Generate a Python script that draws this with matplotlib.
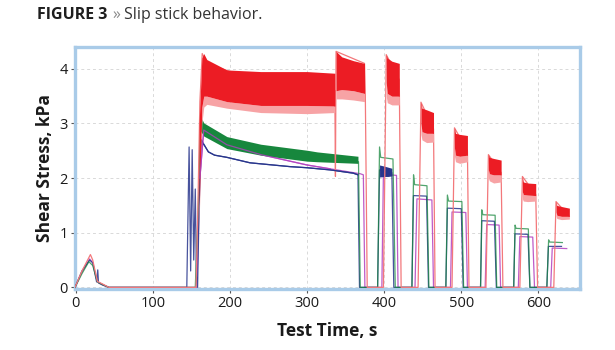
import matplotlib
matplotlib.use("Agg")
import matplotlib.pyplot as plt

plt.rcParams['font.family'] = ['Open Sans', 'DejaVu Sans']

# ---------------- data ----------------
# Red trace outline (time s, shear stress kPa)
red_t = [-1, 8, 19, 22, 28, 35, 43, 156, 158, 161, 164, 170, 250, 336, 336.8, 337.6, 374.5, 375.5, 378,
         399, 402.7, 419.6, 422, 444, 447.7, 464, 466, 488, 491.2, 508, 510, 532, 535.2, 551.7, 554,
         576, 579.3, 596.6, 599, 620, 622.9, 640]
red_v = [0, 0.3, 0.6, 0.5, 0.11, 0.06, 0, 0, 1.2, 3.4, 4.28, 4.1, 3.7, 3.6, 2.03, 4.32, 4.1, 3.6, 0,
         0, 4.26, 3.8, 0, 0, 3.39, 2.9, 0, 0, 2.92, 2.5, 0, 0, 2.43, 2.1, 0,
         0, 2.03, 1.7, 0, 0, 1.57, 1.3]

# Red stick-slip band envelopes for each loading step
red_band_t = [[160, 163.5, 166, 170, 196, 240, 300, 336],
              [337.6, 345, 360, 374.5],
              [402.7, 404, 410, 419.6],
              [447.7, 449, 455, 464],
              [491.2, 492.5, 498, 508],
              [535.2, 536.5, 542, 551.7],
              [579.3, 580.5, 586, 596.6],
              [622.9, 624, 630, 640.2]]
red_band_hi = [[3.0, 4.2, 4.28, 4.17, 3.98, 3.95, 3.95, 3.92],
               [4.32, 4.22, 4.15, 4.1],
               [4.26, 4.2, 4.14, 4.1],
               [3.39, 3.28, 3.25, 3.2],
               [2.92, 2.82, 2.8, 2.78],
               [2.43, 2.38, 2.36, 2.33],
               [2.03, 1.93, 1.91, 1.9],
               [1.57, 1.5, 1.48, 1.45]]
red_band_lo = [[1.5, 3.3, 3.5, 3.5, 3.4, 3.33, 3.33, 3.32],
               [3.6, 3.62, 3.6, 3.55],
               [3.75, 3.55, 3.5, 3.5],
               [3.0, 2.85, 2.82, 2.82],
               [2.55, 2.42, 2.4, 2.42],
               [2.15, 2.08, 2.06, 2.06],
               [1.75, 1.7, 1.69, 1.68],
               [1.38, 1.32, 1.3, 1.3]]
red_band_min = [[1.2, 3.0, 3.3, 3.35, 3.28, 3.2, 3.18, 3.2],
                [3.45, 3.45, 3.43, 3.4],
                [3.5, 3.38, 3.34, 3.34],
                [2.8, 2.7, 2.65, 2.66],
                [2.4, 2.3, 2.27, 2.3],
                [2.0, 1.95, 1.91, 1.93],
                [1.62, 1.58, 1.57, 1.58],
                [1.3, 1.26, 1.24, 1.25]]

# Green trace
green_t = [-1, 8, 17, 22, 28, 35, 43, 155, 159, 161.8, 165, 196, 240, 300, 366.7, 369,
           391.5, 394, 395.5, 411.4, 414.4, 436, 438.1, 439.5, 455.5, 458, 480, 482, 483.5, 500.8, 503,
           525, 526.6, 528, 543.9, 546, 568, 569.8, 571, 587, 589, 611, 613.3, 614.5, 631.1]
green_v = [0, 0.25, 0.47, 0.4, 0.1, 0.05, 0, 0, 1.5, 3.13, 2.9, 2.64, 2.5, 2.41, 2.3, 0,
           0, 2.57, 2.38, 2.35, 0, 0, 2.06, 1.88, 1.86, 0, 0, 1.69, 1.58, 1.57, 0,
           0, 1.42, 1.33, 1.32, 0, 0, 1.14, 1.08, 1.07, 0, 0, 0.87, 0.83, 0.82]
green_band_t = [162, 166, 196, 240, 300, 313, 366]
green_band_hi = [3.13, 3.01, 2.76, 2.62, 2.51, 2.48, 2.40]
green_band_lo = [2.86, 2.77, 2.54, 2.42, 2.31, 2.30, 2.27]

# Blue trace
blue_t = [-1, 8, 18, 22, 27, 28.5, 29.5, 35, 43, 144, 147, 149, 151, 153, 155, 156.5, 158, 160, 163,
          166, 172, 180, 196, 226, 278, 300, 330, 360, 366, 368,
          391.5, 394, 410, 412.5, 436, 438, 455, 457.5, 480, 482, 500, 502.5,
          525, 526.6, 543, 545.5, 568, 569.6, 586.5, 589, 611, 613, 630]
blue_v = [0, 0.3, 0.5, 0.45, 0.1, 0.32, 0.08, 0.04, 0, 0, 2.57, 0.3, 2.52, 0.5, 1.8, 0.2, 0, 1.5, 2.7,
          2.62, 2.48, 2.42, 2.38, 2.28, 2.21, 2.19, 2.15, 2.09, 2.06, 0,
          0, 2.15, 2.1, 0, 0, 1.68, 1.67, 0, 0, 1.45, 1.44, 0,
          0, 1.22, 1.21, 0, 0, 0.98, 0.97, 0, 0, 0.75, 0.75]
blue_band_t = [394, 400, 405, 410]
blue_band_hi = [2.24, 2.22, 2.2, 2.18]
blue_band_lo = [2.02, 2.03, 2.03, 2.04]

# Purple trace
purple_t = [-1, 8, 18, 22, 28, 35, 43, 157, 161, 166, 196, 240, 300, 330, 369, 373, 375,
            397, 399, 416, 418, 440, 442.5, 461.9, 464, 486, 488, 505.9, 508,
            531, 533, 549.1, 551, 574, 576, 592.7, 595, 616, 618, 636.8]
purple_v = [0, 0.28, 0.52, 0.45, 0.1, 0.05, 0, 0, 2.0, 2.88, 2.61, 2.43, 2.24, 2.17, 2.08, 2.06, 0,
            0, 2.07, 2.05, 0, 0, 1.62, 1.6, 0, 0, 1.38, 1.37, 0,
            0, 1.15, 1.14, 0, 0, 0.93, 0.92, 0, 0, 0.72, 0.71]

x_ticks = [0, 100, 200, 300, 400, 500, 600]
y_ticks = [0, 1, 2, 3, 4]

# ---------------- styling ----------------
RED = "#ec1c24"
RED_LIGHT = "#f3787b"
RED_FRINGE = "#f7a3a5"
GREEN = "#17873d"
BLUE = "#28358c"
PURPLE = "#b23fbf"
FRAME = "#a9cbe8"

fig = plt.figure(figsize=(6.15, 3.5), dpi=100)
ax = fig.add_axes([75 / 615, 61 / 350, 505 / 615, 242 / 350])

ax.set_xlim(-1, 654)
ax.set_ylim(-0.03, 4.40)
ax.set_xticks(x_ticks)
ax.set_yticks(y_ticks)
ax.grid(True, color="#d9d9d9", linestyle=(0, (3, 3)), linewidth=0.7)
ax.set_axisbelow(True)

for s in ax.spines.values():
    s.set_color(FRAME)
    s.set_linewidth(2.4)

ax.tick_params(axis='both', length=3, width=0.8, color="#555555", labelsize=10.5,
               labelcolor="#1a1a1a", pad=2)

# traces
ax.plot(purple_t, purple_v, color=PURPLE, lw=0.9, alpha=0.85, zorder=3)
ax.plot(blue_t, blue_v, color=BLUE, lw=0.9, alpha=0.85, zorder=3)
ax.fill_between(blue_band_t, blue_band_lo, blue_band_hi, color=BLUE, lw=0, zorder=3)
ax.plot(green_t, green_v, color=GREEN, lw=0.9, alpha=0.75, zorder=3)
ax.fill_between(green_band_t, green_band_lo, green_band_hi, color=GREEN, lw=0, zorder=3)
# purple passes over the green band
ax.plot(purple_t[8:14], purple_v[8:14], color=PURPLE, lw=0.9, alpha=0.8, zorder=4)
# blue after the first band stays visible
ax.plot(blue_t[19:29], blue_v[19:29], color=BLUE, lw=0.9, zorder=4)

ax.plot(red_t, red_v, color=RED_LIGHT, lw=0.9, zorder=3.5)
for t, hi, lo, mn in zip(red_band_t, red_band_hi, red_band_lo, red_band_min):
    ax.fill_between(t, mn, lo, color=RED_FRINGE, lw=0, zorder=3.6)
    ax.fill_between(t, lo, hi, color=RED, lw=0, zorder=3.7)

ax.set_xlabel("Test Time, s", fontsize=12.5, fontweight="bold", color="#1a1a1a", labelpad=8)
ax.set_ylabel("Shear Stress, kPa", fontsize=12.5, fontweight="bold", color="#1a1a1a", labelpad=4)

# title
ty = 1 - 15 / 350
t1 = fig.text(37 / 615, ty, "FIGURE 3", fontsize=11.5, fontweight="bold",
              color="#1e1e1e", va="center", ha="left")
fig.canvas.draw()
bb = t1.get_window_extent()
t2 = fig.text((bb.x1 + 5) / fig.bbox.width, ty, "»", fontsize=11.5, color="#8a8a8a",
              va="center", ha="left")
fig.canvas.draw()
bb2 = t2.get_window_extent()
fig.text((bb2.x1 + 4) / fig.bbox.width, ty, "Slip stick behavior.", fontsize=11.5,
         color="#333333", va="center", ha="left")

fig.savefig("out.png", dpi=100)
